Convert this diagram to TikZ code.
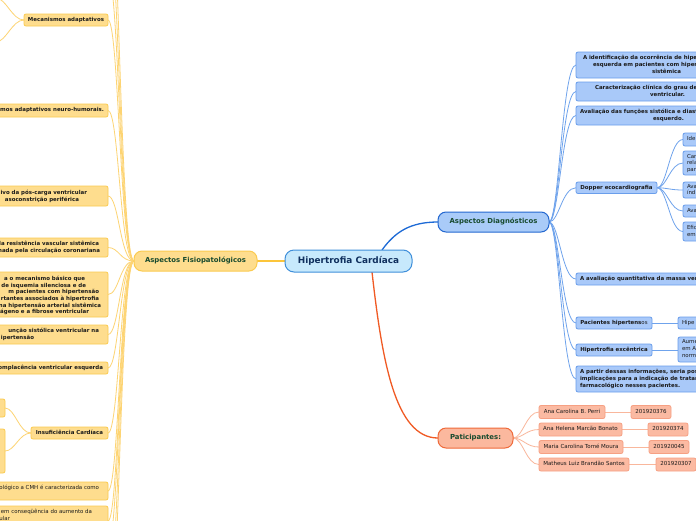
\documentclass[tikz,border=0pt]{standalone}
\usepackage{fontspec}
\setmainfont{DejaVu Sans}
\usetikzlibrary{backgrounds}
\definecolor{yfl}{HTML}{FEDD8E}
\definecolor{ybd}{HTML}{FBCB50}
\definecolor{ymain}{HTML}{FCC53A}
\definecolor{ylt}{HTML}{FDD473}
\definecolor{cfl}{HTML}{C7E9FC}
\definecolor{cbd}{HTML}{3F8FDA}
\definecolor{ctx}{HTML}{10305E}
\definecolor{dfl}{HTML}{A9CBF8}
\definecolor{dbd}{HTML}{2468D0}
\definecolor{bfl}{HTML}{A9C9F9}
\definecolor{bbd}{HTML}{6A9EEB}
\definecolor{bmain}{HTML}{1D6AD6}
\definecolor{blt}{HTML}{6FA3EC}
\definecolor{omain}{HTML}{F05A24}
\definecolor{pfl}{HTML}{FBB89E}
\definecolor{pbd}{HTML}{EF6A3A}
\definecolor{cfl2}{HTML}{FBBAA2}
\definecolor{pbd2}{HTML}{F6A083}
\definecolor{plt}{HTML}{F9B79C}
\definecolor{gtx}{HTML}{174A2E}
\definecolor{txt}{HTML}{1A1A1A}
\begin{document}
\begin{tikzpicture}[x=1pt,y=-1pt,
  every node/.style={inner sep=0pt,outer sep=0pt},
  central/.style={draw=cbd,fill=cfl,line width=1pt,rounded corners=9pt,text=ctx,
    font=\fontsize{8.9}{10}\selectfont\bfseries,text height=6.5pt,text depth=1.9pt},
  mainy/.style={draw=ybd,fill=yfl,line width=1pt,rounded corners=8pt,text=gtx,
    font=\fontsize{6.9}{8}\selectfont\bfseries,text height=5pt,text depth=1.5pt},
  maind/.style={mainy,draw=dbd,fill=dfl},
  mainp/.style={mainy,draw=pbd,fill=pfl},
  ybox/.style={draw=ybd,fill=yfl,rounded corners=2pt,line width=0.8pt},
  bbox/.style={draw=bbd,fill=bfl,rounded corners=2pt,line width=0.8pt},
  pbox/.style={draw=pbd2,fill=cfl2,rounded corners=2pt,line width=0.8pt},
  tb/.style={font=\fontsize{5.45}{7}\selectfont\bfseries,text=txt,text height=4pt,text depth=1.2pt},
  tr/.style={font=\fontsize{5.45}{7}\selectfont,text=txt,text height=4pt,text depth=1.2pt},
  tp/.style={font=\fontsize{5.5}{7}\selectfont,text=txt,text height=4pt,text depth=1.2pt},
  ycon/.style={draw=ylt,line width=0.8pt},
  bcon/.style={draw=blt,line width=0.8pt},
  pcon/.style={draw=plt,line width=0.8pt}]
\useasboundingbox (0,0) rectangle (696,520);
\clip (0,0) rectangle (696,520);

% ---------- main nodes
\node[central,minimum width=127pt,minimum height=22pt] (hc) at (348.5,261) {Hipertrofia Cardíaca};
\node[mainy,minimum width=123pt,minimum height=20pt] (afis) at (195.5,261) {Aspectos Fisiopatológicos};
\node[maind,minimum width=111pt,minimum height=20pt] (adiag) at (493.5,222) {Aspectos Diagnósticos};
\node[mainp,minimum width=75pt,minimum height=20pt] (part) at (475.5,438) {Paticipantes:};

% ---------- left (fisiopatologia) children
\node[ybox,tb,minimum width=84pt,minimum height=12pt,anchor=north west] (mec) at (24,14) {Mecanismos adaptativos};
\coordinate (mecA) at (-4,-2);
\coordinate (mecB) at (-4,42);

\node[ybox,minimum width=170pt,minimum height=13pt,anchor=north east] (nh) at (108,104) {};
\node[tb,anchor=east] (nht) at (104,110.5) {mos adaptativos neuro-humorais.};

\node[ybox,minimum width=170pt,minimum height=20pt,anchor=north east] (pc) at (108,186) {};
\node[tb,anchor=east] (pc1) at (87,193) {ivo da pós-carga ventricular};
\node[tb,anchor=east] (pc2) at (79,200) {asoconstrição periférica};

\node[ybox,minimum width=170pt,minimum height=19pt,anchor=north east] (rv) at (108,238) {};
\node[tb,anchor=east] (rv1) at (99,244.5) {la resistência vascular sistêmica};
\node[tb,anchor=east] (rv2) at (100,251) {nada pela circulação coronariana};

\node[ybox,minimum width=170pt,minimum height=45pt,anchor=north east] (mb) at (108,272) {};
\node[tb,anchor=east] (mb1) at (85,279) {a o mecanismo básico que};
\node[tb,anchor=east] (mb2) at (86,285.7) {de isquemia silenciosa e de};
\node[tb,anchor=east] (mb3) at (99,292.4) {m pacientes com hipertensão};
\node[tb,anchor=east] (mb4) at (99,299.1) {rtantes associados à hipertrofia};
\node[tb,anchor=east] (mb5) at (101,305.8) {na hipertensão arterial sistêmica};
\node[tb,anchor=east] (mb6) at (89,312.5) {ágeno e a fibrose ventricular};

\node[ybox,minimum width=170pt,minimum height=19pt,anchor=north east] (fs) at (108,325) {};
\node[tb,anchor=east] (fs1) at (99,331.5) {unção sistólica ventricular na};
\node[tb,anchor=east] (fs2) at (34,338) {ipertensão};

\node[ybox,minimum width=170pt,minimum height=12pt,anchor=north east] (cv) at (108,362) {};
\node[tb,anchor=east] (cvt) at (103,368) {complacência ventricular esquerda};

\node[ybox,tb,minimum width=77pt,minimum height=12pt,anchor=north west] (ic) at (31,427) {Insuficiência Cardíaca};
\node[ybox,minimum width=60pt,minimum height=18pt,anchor=north east] (ic1) at (5,399) {};
\node[ybox,minimum width=60pt,minimum height=44pt,anchor=north east] (ic2) at (5,429) {};

\node[ybox,minimum width=170pt,minimum height=18pt,anchor=north east] (cmh) at (108,482) {};
\node[tr,anchor=east] (cmht) at (99,488.5) {ológico a CMH é caracterizada como};

\node[ybox,minimum width=170pt,minimum height=30pt,anchor=north east] (ca) at (108,506) {};
\node[tr,anchor=east] (ca1) at (92,512.5) {em conseqüência do aumento da};
\node[tr,anchor=east] (ca2) at (10,519) {ular};

\coordinate (up1) at (108,-25);
\coordinate (up2) at (108,-70);
\coordinate (up3) at (108,-130);
\coordinate (dn1) at (108,545);
\coordinate (dn2) at (108,590);
\coordinate (dn3) at (108,640);

% ---------- right (diagnosticos) children
\node[bbox,minimum width=150pt,minimum height=26pt,anchor=north west] (d1) at (576,52) {};
\node[tb,anchor=west] (d1a) at (583,58.5) {A identificação da ocorrência de hipertrofia};
\node[tb,anchor=west] (d1b) at (593,65.5) {esquerda em pacientes com hipertensão};
\node[tb,anchor=west] (d1c) at (652,72.5) {sistêmica};

\node[bbox,minimum width=150pt,minimum height=19pt,anchor=north west] (d2) at (576,82) {};
\node[tb,anchor=west] (d2a) at (595,88.5) {Caracterização clínica do grau de};
\node[tb,anchor=west] (d2b) at (650,95.5) {ventricular.};

\node[bbox,minimum width=150pt,minimum height=19pt,anchor=north west] (d3) at (576,106) {};
\node[tb,anchor=west] (d3a) at (580,112.5) {Avaliação das funções sistólica e diastólica};
\node[tb,anchor=west] (d3b) at (653,119.5) {esquerdo.};

\node[bbox,tb,minimum width=81pt,minimum height=11.5pt,anchor=north west] (dop) at (576,182) {Dopper ecocardiografia};

\node[bbox,minimum width=40pt,minimum height=13pt,anchor=north west] (e1) at (683,133) {};
\node[tr,anchor=west] (e1t) at (687,139.5) {Ide};
\node[bbox,minimum width=40pt,minimum height=24pt,anchor=north west] (e2) at (683,151) {};
\node[tr,anchor=west] (e2a) at (687,157) {Car};
\node[tr,anchor=west] (e2b) at (687,163.5) {rela};
\node[tr,anchor=west] (e2c) at (687,170) {par};
\node[bbox,minimum width=40pt,minimum height=16pt,anchor=north west] (e3) at (683,182) {};
\node[tr,anchor=west] (e3a) at (687,187) {Ava};
\node[tr,anchor=west] (e3b) at (687,193.5) {índ};
\node[bbox,minimum width=40pt,minimum height=12pt,anchor=north west] (e4) at (683,205) {};
\node[tr,anchor=west] (e4t) at (687,211) {Ava};
\node[bbox,minimum width=40pt,minimum height=19pt,anchor=north west] (e5) at (683,222) {};
\node[tr,anchor=west] (e5a) at (687,228) {Efic};
\node[tr,anchor=west] (e5b) at (687,235) {em};

\node[bbox,minimum width=150pt,minimum height=12pt,anchor=north west] (d5) at (576,273) {};
\node[tb,anchor=west] (d5t) at (580,279) {A avaliação quantitativa da massa ventricular};

\node[bbox,tb,minimum width=76pt,minimum height=12pt,anchor=north west] (d6) at (576,317) {Pacientes hipertens{\mdseries os}};
\node[bbox,minimum width=40pt,minimum height=12pt,anchor=north west] (d6c) at (678,317) {};
\node[tr,anchor=west] (d6ct) at (682,323) {Hipe};

\node[bbox,tb,minimum width=76pt,minimum height=12pt,anchor=north west] (d7) at (576,344) {Hipertrofia excêntrica};
\node[bbox,minimum width=40pt,minimum height=25pt,anchor=north west] (d7c) at (678,337) {};
\node[tr,anchor=west] (d7a) at (682,342.5) {Aume};
\node[tr,anchor=west] (d7b) at (682,349.5) {em A};
\node[tr,anchor=west] (d7d) at (682,356.5) {norm};

\node[bbox,minimum width=150pt,minimum height=26pt,anchor=north west] (d8) at (576,366) {};
\node[tb,anchor=west] (d8a) at (580,372.5) {A partir dessas informações, seria possível};
\node[tb,anchor=west] (d8b) at (580,379.5) {implicações para a indicação de tratamento};
\node[tb,anchor=west] (d8c) at (580,386.5) {farmacológico nesses pacientes.};

% ---------- participants
\node[pbox,tp,anchor=west,minimum width=66pt,minimum height=13pt] (p1) at (539,412) {Ana Carolina B. Perri};
\node[pbox,tp,anchor=west,minimum width=40pt,minimum height=13pt] (n1) at (631,412) {201920376};
\node[pbox,tp,anchor=west,minimum width=83pt,minimum height=13pt] (p2) at (539,429.5) {Ana Helena Marcão Bonato};
\node[pbox,tp,anchor=west,minimum width=40pt,minimum height=13pt] (n2) at (648,429.5) {201920374};
\node[pbox,tp,anchor=west,minimum width=84pt,minimum height=13pt] (p3) at (539,447) {Maria Carolina Tomé Moura};
\node[pbox,tp,anchor=west,minimum width=40pt,minimum height=13pt] (n3) at (649,447) {201920045};
\node[pbox,tp,anchor=west,minimum width=90pt,minimum height=13pt] (p4) at (539,464.5) {Matheus Luiz Brandão Santos};
\node[pbox,tp,anchor=west,minimum width=40pt,minimum height=13pt] (n4) at (656,464.5) {201920307};

% ---------- connectors
\begin{pgfonlayer}{background}
\fill[white] (0,0) rectangle (696,520);
\clip (0,0) rectangle (696,520);
\draw[ymain,line width=1.3pt] (hc.west) -- (afis.east);
\draw[bmain,line width=1.3pt] ([xshift=33.5pt]hc.north) .. controls (395,232) and (410,222) .. (adiag.west);
\draw[omain,line width=1.3pt] ([xshift=23.5pt]hc.south) .. controls (382,360) and (395,438) .. (part.west);

\foreach \t in {up3,up2,up1,dn1,dn2,dn3}
  \draw[ycon] (afis.west) .. controls +(-14,0) and +(11,0) .. (\t);
\foreach \t in {mec,nh,pc,rv,mb,fs,cv,ic,cmh,ca}
  \draw[ycon] (afis.west) .. controls +(-14,0) and +(11,0) .. (\t.east);
\foreach \t in {mecA,mecB}
  \draw[ycon] (mec.west) .. controls +(-12,0) and +(10,0) .. (\t);
\foreach \t in {ic1,ic2}
  \draw[ycon] (ic.west) .. controls +(-12,0) and +(10,0) .. (\t.east);

\foreach \t in {d1,d2,d3,dop,d5,d6,d7,d8}
  \draw[bcon] (adiag.east) .. controls +(10,0) and +(-14,0) .. (\t.west);
\foreach \t in {e1,e2,e3,e4,e5}
  \draw[bcon] (dop.east) .. controls +(10,0) and +(-13,0) .. (\t.west);
\draw[bcon] (d6.east) -- (d6c.west |- d6.east);
\draw[bcon] (d7.east) -- (d7c.west |- d7.east);

\foreach \t in {p1,p2,p3,p4}
  \draw[pcon] (part.east) .. controls +(10,0) and +(-13,0) .. (\t.west);
\draw[pcon] (p1.east) -- (n1.west);
\draw[pcon] (p2.east) -- (n2.west);
\draw[pcon] (p3.east) -- (n3.west);
\draw[pcon] (p4.east) -- (n4.west);
\end{pgfonlayer}
\end{tikzpicture}
\end{document}
